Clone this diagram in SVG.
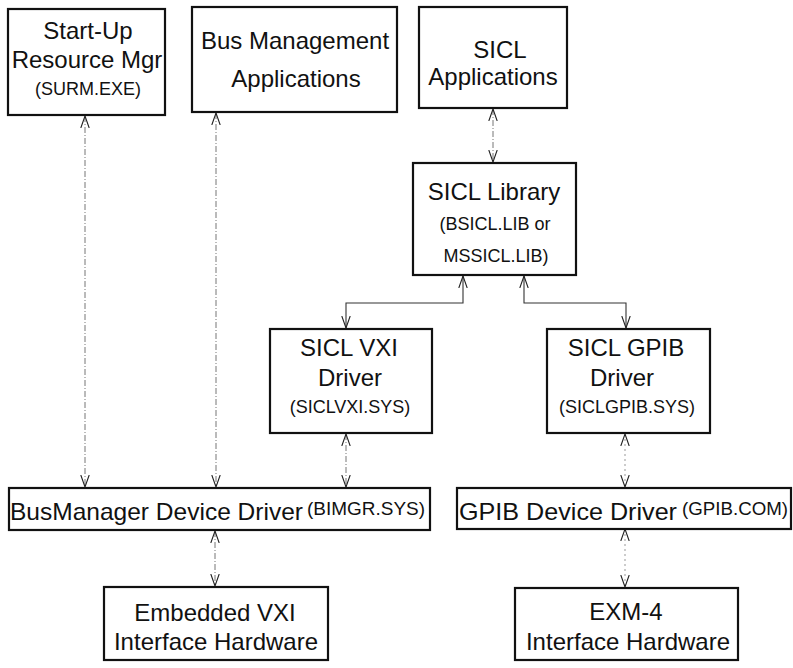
<svg xmlns="http://www.w3.org/2000/svg" width="793" height="668" viewBox="0 0 793 668">
  <style>
    .box { fill: #fff; stroke: #111; stroke-width: 2.2; }
    .lg { font-family: "Liberation Sans", Arial, Helvetica, sans-serif; font-size: 24px; fill: #111; text-anchor: middle; }
    .sm { font-family: "Liberation Sans", Arial, Helvetica, sans-serif; font-size: 18px; fill: #111; text-anchor: middle; }
    .solid { fill: none; stroke: #333; stroke-width: 1.1; }
    .dash { fill: none; stroke: #777; stroke-width: 1; stroke-dasharray: 6 2 1 2; }
    .dot { fill: none; stroke: #999; stroke-width: 1; stroke-dasharray: 2 3; }
  </style>
  <defs>
    <marker id="open" viewBox="0 0 12 10" refX="12" refY="5" markerWidth="12" markerHeight="10" markerUnits="userSpaceOnUse" orient="auto-start-reverse">
      <path d="M0,0.8 L12,5 L0,9.2" fill="none" stroke="#222" stroke-width="1.1"/>
    </marker>
  </defs>

  <rect width="793" height="668" fill="#fff"/>

  <g id="connectors">
    <!-- applications to the bus manager driver -->
    <path class="dash" d="M85,116 V487" marker-start="url(#open)" marker-end="url(#open)"/>
    <path class="dash" d="M216,113 V487" marker-start="url(#open)" marker-end="url(#open)"/>
    <!-- SICL applications to library -->
    <path class="dash" d="M493,109 V162" marker-start="url(#open)" marker-end="url(#open)"/>
    <!-- library to the two SICL drivers -->
    <path class="solid" d="M463,276 V303 H346 V328" marker-start="url(#open)" marker-end="url(#open)"/>
    <path class="solid" d="M524,276 V303 H626 V328" marker-start="url(#open)" marker-end="url(#open)"/>
    <!-- drivers to device drivers -->
    <path class="dash" d="M346,434 V487" marker-start="url(#open)" marker-end="url(#open)"/>
    <path class="dot" d="M625,434 V487" marker-start="url(#open)" marker-end="url(#open)"/>
    <!-- device drivers to hardware -->
    <path class="dash" d="M215,531 V586" marker-start="url(#open)" marker-end="url(#open)"/>
    <path class="dot" d="M625,529 V587" marker-start="url(#open)" marker-end="url(#open)"/>
  </g>

  <g id="surm">
    <rect class="box" x="8" y="9" width="157" height="106"/>
    <text class="lg" x="88" y="39">Start-Up</text>
    <text class="lg" x="87" y="68">Resource Mgr</text>
    <text class="sm" x="88" y="95">(SURM.EXE)</text>
  </g>

  <g id="busmgmt-apps">
    <rect class="box" x="192" y="7" width="205" height="105"/>
    <text class="lg" x="295" y="49">Bus Management</text>
    <text class="lg" x="296" y="87">Applications</text>
  </g>

  <g id="sicl-apps">
    <rect class="box" x="419" y="7" width="148" height="101"/>
    <text class="lg" x="500" y="58">SICL</text>
    <text class="lg" x="493" y="85">Applications</text>
  </g>

  <g id="sicl-lib">
    <rect class="box" x="413" y="163" width="163" height="112"/>
    <text class="lg" x="494" y="200">SICL Library</text>
    <text class="sm" x="495" y="230">(BSICL.LIB or</text>
    <text class="sm" x="496" y="262">MSSICL.LIB)</text>
  </g>

  <g id="sicl-vxi">
    <rect class="box" x="270" y="329" width="162" height="104"/>
    <text class="lg" x="349" y="356">SICL VXI</text>
    <text class="lg" x="350" y="386">Driver</text>
    <text class="sm" x="350" y="413">(SICLVXI.SYS)</text>
  </g>

  <g id="sicl-gpib">
    <rect class="box" x="547" y="329" width="163" height="104"/>
    <text class="lg" x="626" y="356">SICL GPIB</text>
    <text class="lg" x="622" y="386">Driver</text>
    <text class="sm" x="627" y="413">(SICLGPIB.SYS)</text>
  </g>

  <g id="busmanager">
    <rect class="box" x="9" y="488" width="421" height="42"/>
    <text class="lg" x="10" y="520" style="text-anchor:start" textLength="293" lengthAdjust="spacingAndGlyphs">BusManager Device Driver</text>
    <text class="sm" x="307" y="515" style="text-anchor:start" textLength="118" lengthAdjust="spacingAndGlyphs">(BIMGR.SYS)</text>
  </g>

  <g id="gpib-device">
    <rect class="box" x="457" y="488" width="334" height="41"/>
    <text class="lg" x="459" y="520" style="text-anchor:start" textLength="218" lengthAdjust="spacingAndGlyphs">GPIB Device Driver</text>
    <text class="sm" x="682" y="515" style="text-anchor:start" textLength="106" lengthAdjust="spacingAndGlyphs">(GPIB.COM)</text>
  </g>

  <g id="embedded-vxi">
    <rect class="box" x="104" y="587" width="224" height="73"/>
    <text class="lg" x="215" y="621">Embedded VXI</text>
    <text class="lg" x="216" y="650">Interface Hardware</text>
  </g>

  <g id="exm4">
    <rect class="box" x="515" y="588" width="223" height="72"/>
    <text class="lg" x="626" y="620">EXM-4</text>
    <text class="lg" x="628" y="650">Interface Hardware</text>
  </g>
</svg>
